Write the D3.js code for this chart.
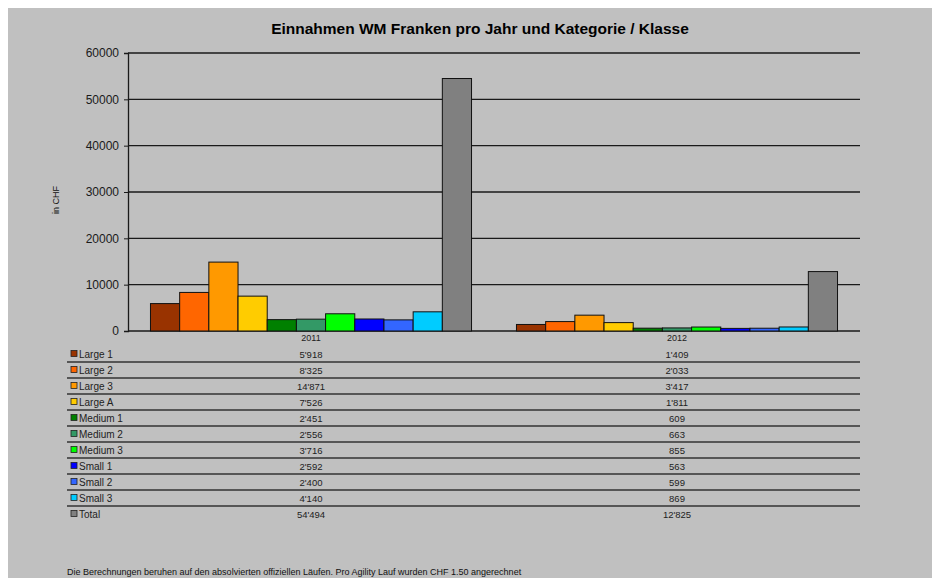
<html>
<head>
<style>
  body { margin: 0; background: #ffffff; font-family: "Liberation Sans", Arial, sans-serif; }
</style>
<script src="https://cdn.jsdelivr.net/npm/d3@7"></script>
</head>
<body>
<div id="chart"></div>
<script>
  // data
  var years = ["2011", "2012"];
  var categories = ["Large 1", "Large 2", "Large 3", "Large A", "Medium 1", "Medium 2", "Medium 3", "Small 1", "Small 2", "Small 3", "Total"];
  var colors = ["#993300", "#ff6600", "#ff9900", "#ffcc00", "#008000", "#339966", "#00ff00", "#0000ff", "#3366ff", "#00ccff", "#808080"];
  var values2011 = [5918, 8325, 14871, 7526, 2451, 2556, 3716, 2592, 2400, 4140, 54494];
  var values2012 = [1409, 2033, 3417, 1811, 609, 663, 855, 563, 599, 869, 12825];
  var yTicks = [0, 10000, 20000, 30000, 40000, 50000, 60000];

  var valuesByYear = { "2011": values2011, "2012": values2012 };

  var width = 932, height = 578;
  var plotLeft = 128, plotRight = 860, plotTop = 53, plotBottom = 331;

  var svg = d3.select("#chart").append("svg")
      .attr("width", width)
      .attr("height", height);

  // gray panel
  svg.append("rect")
      .attr("x", 8).attr("y", 8)
      .attr("width", width - 8).attr("height", height - 8)
      .attr("fill", "#c0c0c0");

  var y = d3.scaleLinear().domain([0, 60000]).range([plotBottom, plotTop]);
  var x0 = d3.scaleBand().domain(years).range([plotLeft, plotRight]);
  var x1 = d3.scaleBand().domain(categories).range([0, x0.bandwidth()]).paddingOuter(0.77);
  var color = d3.scaleOrdinal().domain(categories).range(colors);

  var swiss = d3.formatLocale({ decimal: ".", thousands: "'", grouping: [3], currency: ["", ""] });
  var fmt = swiss.format(",d");

  // gridlines
  svg.append("g").selectAll("line")
      .data(yTicks)
      .enter().append("line")
      .attr("x1", plotLeft).attr("x2", plotRight)
      .attr("y1", function (d) { return y(d); })
      .attr("y2", function (d) { return y(d); })
      .attr("stroke", "#1a1a1a")
      .attr("stroke-width", 1.3);

  // y axis
  var yAxis = svg.append("g")
      .attr("transform", "translate(" + plotLeft + ",0)")
      .call(d3.axisLeft(y).tickValues(yTicks).tickSize(4).tickFormat(d3.format("d")));
  yAxis.select(".domain").attr("stroke", "#1a1a1a").attr("stroke-width", 1.3);
  yAxis.selectAll(".tick line").attr("stroke", "#1a1a1a");
  yAxis.selectAll("text")
      .attr("font-size", "12px")
      .attr("font-family", "'Liberation Sans', Arial, sans-serif")
      .attr("fill", "#1a1a1a")
      .attr("x", -9);

  svg.append("text")
      .attr("transform", "translate(59,200) rotate(-90)")
      .attr("text-anchor", "middle")
      .attr("font-size", "9px")
      .attr("fill", "#111")
      .text("in CHF");

  // bars
  var groups = svg.append("g").selectAll("g")
      .data(years)
      .enter().append("g")
      .attr("transform", function (d) { return "translate(" + x0(d) + ",0)"; });

  groups.selectAll("rect")
      .data(function (yr) {
        return categories.map(function (c, i) { return { cat: c, value: valuesByYear[yr][i] }; });
      })
      .enter().append("rect")
      .attr("x", function (d) { return x1(d.cat); })
      .attr("y", function (d) { return y(d.value); })
      .attr("width", x1.bandwidth())
      .attr("height", function (d) { return plotBottom - y(d.value); })
      .attr("fill", function (d) { return color(d.cat); })
      .attr("stroke", "#111")
      .attr("stroke-width", 1);

  // category labels
  svg.append("g").selectAll("text")
      .data(years)
      .enter().append("text")
      .attr("x", function (d) { return x0(d) + x0.bandwidth() / 2; })
      .attr("y", 341)
      .attr("text-anchor", "middle")
      .attr("font-size", "9px")
      .attr("fill", "#222")
      .text(function (d) { return d; });

  // data table
  var rowStep = 16, firstRow = 354;
  var table = svg.append("g");

  table.selectAll("line")
      .data(categories.slice(0, categories.length - 1))
      .enter().append("line")
      .attr("x1", 67).attr("x2", plotRight)
      .attr("y1", function (d, i) { return firstRow + 8 + i * rowStep; })
      .attr("y2", function (d, i) { return firstRow + 8 + i * rowStep; })
      .attr("stroke", "#333")
      .attr("stroke-width", 1.6);

  table.selectAll("rect.key")
      .data(categories)
      .enter().append("rect")
      .attr("class", "key")
      .attr("x", 71)
      .attr("y", function (d, i) { return firstRow - 3.5 + i * rowStep; })
      .attr("width", 6).attr("height", 6)
      .attr("fill", function (d) { return color(d); })
      .attr("stroke", "#222")
      .attr("stroke-width", 0.8);

  table.selectAll("text.cat")
      .data(categories)
      .enter().append("text")
      .attr("class", "cat")
      .attr("x", 79)
      .attr("y", function (d, i) { return firstRow + 3.5 + i * rowStep; })
      .attr("font-size", "10px")
      .attr("fill", "#222")
      .text(function (d) { return d; });

  years.forEach(function (yr) {
    table.selectAll("text.v" + yr)
        .data(valuesByYear[yr])
        .enter().append("text")
        .attr("class", "v" + yr)
        .attr("x", x0(yr) + x0.bandwidth() / 2)
        .attr("y", function (d, i) { return firstRow + 3.5 + i * rowStep; })
        .attr("text-anchor", "middle")
        .attr("font-size", "9.5px")
        .attr("fill", "#222")
        .text(function (d) { return fmt(d); });
  });

  // title
  svg.append("text")
      .attr("x", 480).attr("y", 34)
      .attr("text-anchor", "middle")
      .attr("font-size", "15.5px")
      .attr("font-weight", "bold")
      .attr("fill", "#000")
      .text("Einnahmen WM Franken pro Jahr und Kategorie / Klasse");

  // footnote
  svg.append("text")
      .attr("x", 67).attr("y", 575)
      .attr("font-size", "9px")
      .attr("fill", "#111")
      .text("Die Berechnungen beruhen auf den absolvierten offiziellen Läufen. Pro Agility Lauf wurden CHF 1.50 angerechnet");
</script>
</body>
</html>
